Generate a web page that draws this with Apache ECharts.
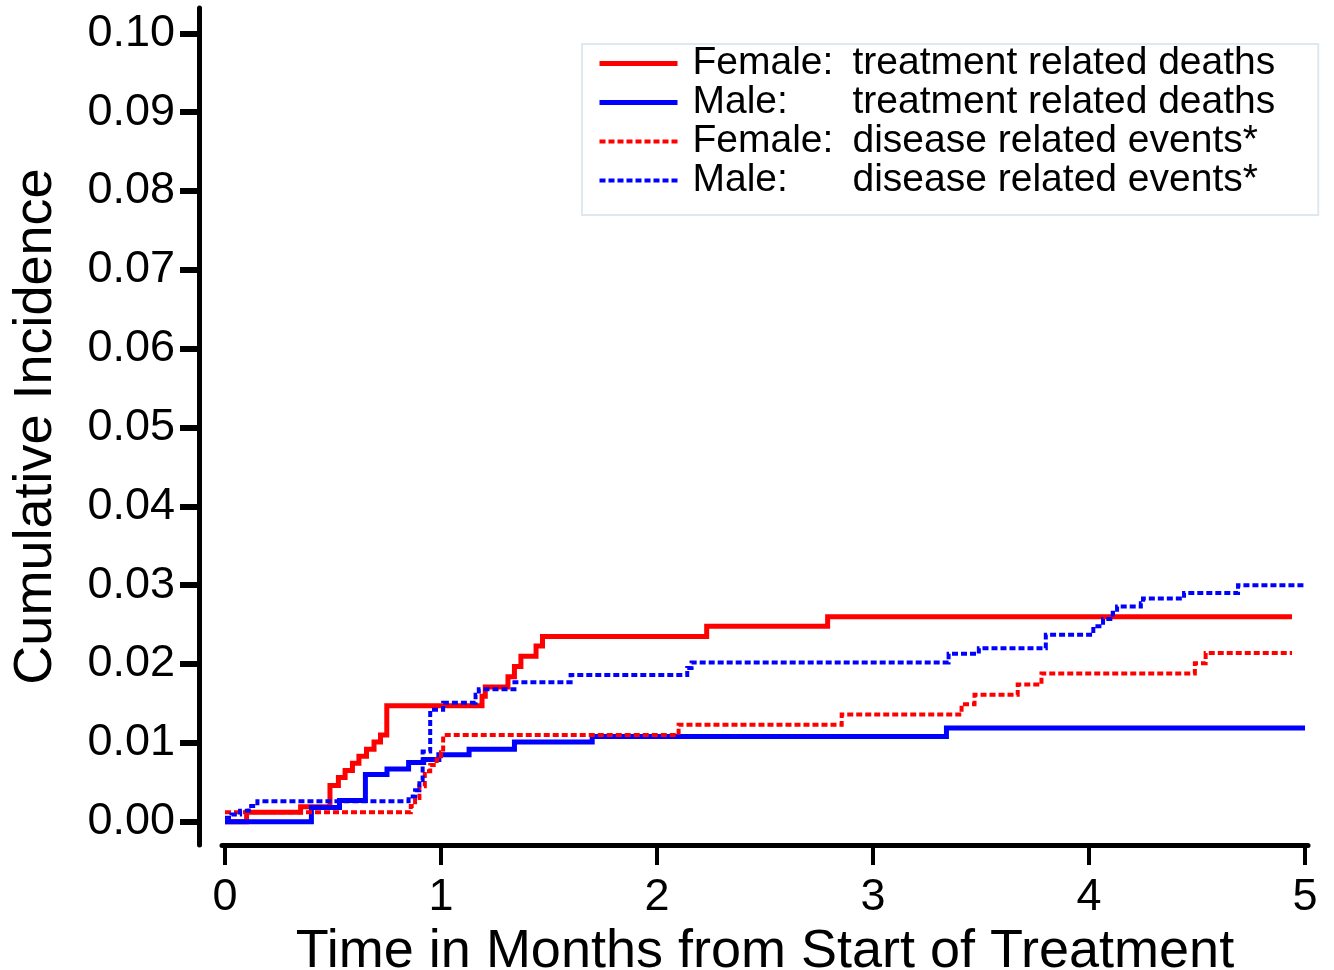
<!DOCTYPE html>
<html>
<head>
<meta charset="utf-8">
<script src="https://cdn.jsdelivr.net/npm/echarts@6/dist/echarts.min.js"></script>
<style>
html,body{margin:0;padding:0;background:#fff;}
#chart{width:1334px;height:970px;}
</style>
</head>
<body>
<div id="chart"></div>
<script>
// ---- data (time in months, cumulative incidence) ----
const xTicks = [0, 1, 2, 3, 4, 5];
const yTicks = [0, 0.01, 0.02, 0.03, 0.04, 0.05, 0.06, 0.07, 0.08, 0.09, 0.10];

const legendGroups = ['Female:', 'Male:', 'Female:', 'Male:'];
const legendEvents = ['treatment related deaths', 'treatment related deaths', 'disease related events*', 'disease related events*'];

const femaleTreatment = [
  [0, 0], [0.10, 0.0012], [0.35, 0.0019], [0.486, 0.0046], [0.525, 0.0056], [0.556, 0.0065],
  [0.59, 0.0074], [0.62, 0.0083], [0.655, 0.0092], [0.69, 0.0101], [0.72, 0.0110], [0.749, 0.0147],
  [1.19, 0.0159], [1.205, 0.0171], [1.31, 0.0184], [1.34, 0.0197], [1.37, 0.0210], [1.44, 0.0223],
  [1.47, 0.0235], [2.23, 0.0248], [2.79, 0.0260], [4.94, 0.0260]
];
const maleTreatment = [
  [0, 0], [0.40, 0.0018], [0.53, 0.0027], [0.65, 0.0060], [0.75, 0.0067], [0.85, 0.0075],
  [0.92, 0.0079], [0.99, 0.0085], [1.13, 0.0092], [1.34, 0.0101], [1.70, 0.0108], [3.34, 0.0119],
  [5.0, 0.0119]
];
const femaleDisease = [
  [0, 0.0012], [0.86, 0.0020], [0.88, 0.0030], [0.90, 0.0045], [0.925, 0.0064], [0.95, 0.0072],
  [0.98, 0.0079], [1.00, 0.0088], [1.01, 0.0110], [2.10, 0.0123], [2.855, 0.0136], [3.41, 0.0149],
  [3.47, 0.0161], [3.67, 0.0174], [3.78, 0.0188], [4.49, 0.0201], [4.54, 0.0214], [4.94, 0.0214]
];
const maleDisease = [
  [0, 0.0005], [0.03, 0.0009], [0.07, 0.0014], [0.11, 0.0020], [0.15, 0.0026], [0.85, 0.0032],
  [0.88, 0.0040], [0.90, 0.0053], [0.915, 0.0089], [0.95, 0.0142], [1.01, 0.0151], [1.16, 0.0161],
  [1.175, 0.0168], [1.34, 0.0177], [1.60, 0.0186], [2.14, 0.0195], [2.16, 0.0202], [3.35, 0.0213],
  [3.49, 0.0220], [3.80, 0.0237], [4.02, 0.0248], [4.065, 0.0257], [4.11, 0.0265], [4.13, 0.0273],
  [4.24, 0.0277], [4.25, 0.0283], [4.44, 0.0290], [4.69, 0.0300], [5.0, 0.0300]
];

// ---- chart ----
const FONT = 'Liberation Sans, Arial, sans-serif';
const names = legendGroups.map((g, i) => g + ' ' + legendEvents[i]);
const seriesData = [femaleTreatment, maleTreatment, femaleDisease, maleDisease];
const colors = ['#ff0000', '#0000ff', '#ff0000', '#0000ff'];
const widths = [5, 5, 4, 4];
const types = ['solid', 'solid', [6, 3], [6, 3]];
const zs = [2, 2, 3, 3];

const chart = echarts.init(document.getElementById('chart'), null, {renderer: 'canvas'});
chart.setOption({
  animation: false,
  backgroundColor: '#ffffff',
  textStyle: {fontFamily: FONT},
  grid: {left: 222, right: 26, top: 8, bottom: 125, containLabel: false, outerBoundsMode: 'none'},
  legend: {
    left: 582, top: 44, orient: 'vertical',
    padding: [0, 43, 15, 15],
    itemGap: 0, itemWidth: 78, itemHeight: 14,
    borderColor: '#dfe7ef', borderWidth: 2,
    lineStyle: {width: 'inherit', type: 'inherit'},
    itemStyle: {opacity: 0, borderWidth: 0},
    data: names,
    formatter: function (name) {
      const i = names.indexOf(name);
      return '{a|' + legendGroups[i] + '}{b|' + legendEvents[i] + '}';
    },
    textStyle: {
      fontFamily: FONT, color: '#000', fontSize: 39, lineHeight: 36,
      rich: {
        a: {fontFamily: FONT, fontSize: 39, color: '#000', width: 160, padding: [0, 0, 0, 10], lineHeight: 36},
        b: {fontFamily: FONT, fontSize: 39, color: '#000', lineHeight: 36}
      }
    }
  },
  xAxis: {
    type: 'value', min: -3 / 216, max: 5 + 3 / 216,
    name: 'Time in Months from Start of Treatment',
    nameLocation: 'middle', nameGap: 67,
    nameTextStyle: {fontFamily: FONT, fontSize: 54, color: '#000'},
    axisLine: {show: true, onZero: false, lineStyle: {color: '#000', width: 5}},
    axisTick: {show: true, customValues: xTicks, length: 20, lineStyle: {color: '#000', width: 4}},
    axisLabel: {customValues: xTicks, fontFamily: FONT, fontSize: 45, color: '#000', margin: 30,
      formatter: v => String(Math.round(v))},
    splitLine: {show: false}
  },
  yAxis: {
    type: 'value', min: -0.002955, max: 0.10321, offset: 23,
    name: 'Cumulative Incidence',
    nameLocation: 'middle', nameGap: 136, nameRotate: 90,
    nameTextStyle: {fontFamily: FONT, fontSize: 54, color: '#000'},
    axisLine: {show: true, onZero: false, lineStyle: {color: '#000', width: 5}},
    axisTick: {show: true, customValues: yTicks, length: 19, lineStyle: {color: '#000', width: 6}},
    axisLabel: {customValues: yTicks, fontFamily: FONT, fontSize: 45, color: '#000', margin: 24,
      formatter: v => v.toFixed(2)},
    splitLine: {show: false}
  },
  series: names.map((n, i) => ({
    name: n, type: 'line', step: 'end', data: seriesData[i],
    symbol: 'none', showSymbol: false, z: zs[i],
    color: colors[i],
    lineStyle: {color: colors[i], width: widths[i], type: types[i], cap: 'butt', join: 'miter'}
  }))
});
</script>
</body>
</html>
